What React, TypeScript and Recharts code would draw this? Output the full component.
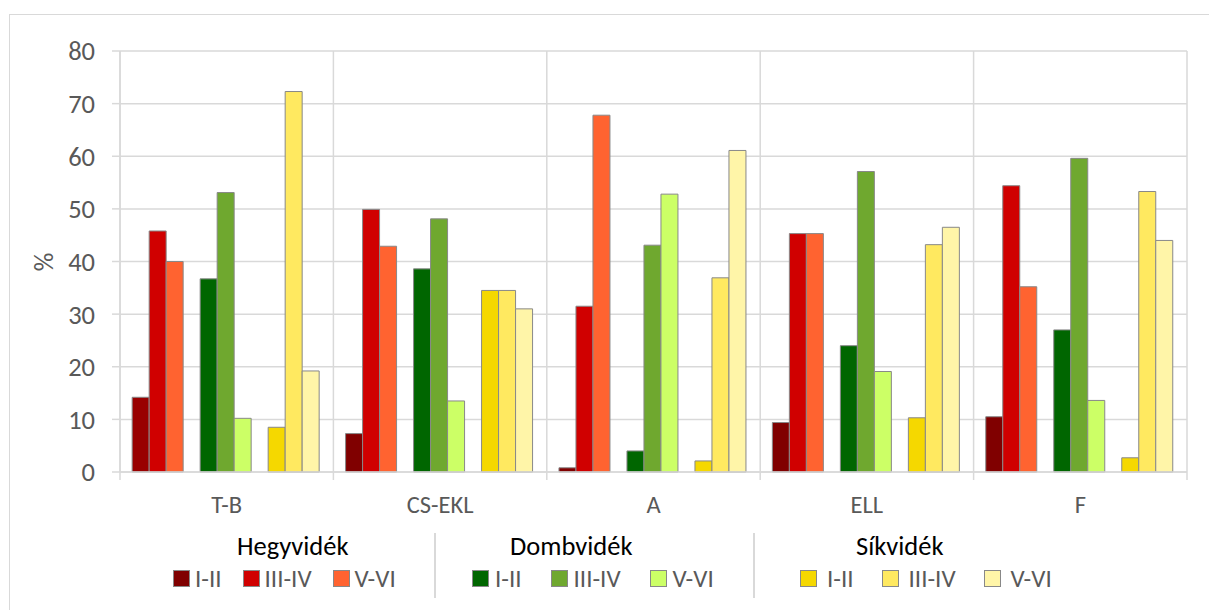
import React from 'react';
import { BarChart, Bar, XAxis, YAxis, CartesianGrid, Cell } from 'recharts';

const categories = ['T-B', 'CS-EKL', 'A', 'ELL', 'F'];

// Hegyvidék
const hegyI = [14.2, 7.3, 0.8, 9.4, 10.5];
const hegyIII = [45.8, 49.9, 31.5, 45.3, 54.4];
const hegyV = [40.0, 42.9, 67.8, 45.3, 35.2];
// Dombvidék
const dombI = [36.7, 38.6, 4.0, 24.0, 27.0];
const dombIII = [53.1, 48.1, 43.1, 57.1, 59.6];
const dombV = [10.2, 13.5, 52.8, 19.1, 13.6];
// Síkvidék
const sikI = [8.5, 34.5, 2.1, 10.3, 2.7];
const sikIII = [72.3, 34.5, 36.9, 43.2, 53.3];
const sikV = [19.2, 31.0, 61.1, 46.5, 44.0];

const yTicks = [0, 10, 20, 30, 40, 50, 60, 70, 80];

const FONT = 'Carlito, Lato, sans-serif';
const GRID = '#d9d9d9';
const TEXT = '#595959';
const OUTLINE = '#888888';

// the first dark red bar is a shade lighter in the original
const hegyIColors = ['#990000', '#800000', '#800000', '#800000', '#800000'];

const groups = [
  {
    title: 'Hegyvidék',
    titleLeft: 237,
    left: 173,
    gap: 21,
    textGap: 5,
    items: [
      { key: 'hegyI', label: 'I-II', color: '#800000' },
      { key: 'hegyIII', label: 'III-IV', color: '#d00000' },
      { key: 'hegyV', label: 'V-VI', color: '#ff6330' },
    ],
  },
  {
    title: 'Dombvidék',
    titleLeft: 510,
    left: 472,
    gap: 29,
    textGap: 6,
    items: [
      { key: 'dombI', label: 'I-II', color: '#006600' },
      { key: 'dombIII', label: 'III-IV', color: '#6fa82f' },
      { key: 'dombV', label: 'V-VI', color: '#ccff66' },
    ],
  },
  {
    title: 'Síkvidék',
    titleLeft: 856,
    left: 800,
    gap: 28,
    textGap: 10,
    items: [
      { key: 'sikI', label: 'I-II', color: '#f5d800' },
      { key: 'sikIII', label: 'III-IV', color: '#ffe960' },
      { key: 'sikV', label: 'V-VI', color: '#fff5a8' },
    ],
  },
];

const data = categories.map((name, i) => ({
  name,
  hegyI: hegyI[i],
  hegyIII: hegyIII[i],
  hegyV: hegyV[i],
  dombI: dombI[i],
  dombIII: dombIII[i],
  dombV: dombV[i],
  sikI: sikI[i],
  sikIII: sikIII[i],
  sikV: sikV[i],
}));

const CategoryTick = (props: any) => {
  const { x, y, payload, index } = props;
  const half = payload.offset || 0;
  const axisY = y - 10;
  return (
    <g>
      <line x1={x - half} x2={x - half} y1={axisY} y2={axisY + 8} stroke={GRID} strokeWidth={1.5} />
      {index === categories.length - 1 && (
        <line x1={x + half} x2={x + half} y1={axisY} y2={axisY + 8} stroke={GRID} strokeWidth={1.5} />
      )}
      <text x={x} y={axisY + 41} textAnchor="middle" fill={TEXT} fontSize={24.5} fontFamily={FONT}>
        {payload.value}
      </text>
    </g>
  );
};

const seriesOrder = ['hegyI', 'hegyIII', 'hegyV', 'gap1', 'dombI', 'dombIII', 'dombV', 'gap2', 'sikI', 'sikIII', 'sikV'];

export default function App() {
  const colorOf: Record<string, string> = {};
  groups.forEach((g) => g.items.forEach((it) => (colorOf[it.key] = it.color)));

  return (
    <div
      style={{
        position: 'fixed',
        left: 0,
        top: 0,
        width: 1209,
        height: 610,
        overflow: 'hidden',
        background: '#fff',
        fontFamily: FONT,
      }}
    >
      <div
        style={{
          position: 'absolute',
          left: 9,
          top: 14,
          width: 1400,
          height: 800,
          border: `1.5px solid ${GRID}`,
        }}
      />
      <div style={{ position: 'absolute', left: 0, top: 0 }}>
        <BarChart
          width={1209}
          height={530}
          data={data}
          margin={{ top: 51, right: 22, bottom: 8, left: 0 }}
          barCategoryGap="5.7%"
          barGap={0}
        >
          <CartesianGrid
            stroke={GRID}
            strokeWidth={1.5}
            verticalCoordinatesGenerator={({ offset }: any) =>
              categories.map((_, i) => offset.left + (i * offset.width) / categories.length).concat(offset.left + offset.width)
            }
          />
          <XAxis
            dataKey="name"
            height={50}
            axisLine={{ stroke: GRID, strokeWidth: 1.5 }}
            tickLine={false}
            tickSize={8}
            tickMargin={2}
            tick={<CategoryTick />}
            interval={0}
          />
          <YAxis
            width={120}
            domain={[0, 80]}
            ticks={yTicks}
            interval={0}
            axisLine={{ stroke: GRID, strokeWidth: 1.5 }}
            tickLine={{ stroke: GRID, strokeWidth: 1.5 }}
            tickSize={8}
            tickMargin={17}
            tick={{ fill: TEXT, fontSize: 26.5, fontFamily: FONT }}
          />
          {seriesOrder.map((key) =>
            key.startsWith('gap') ? (
              <Bar key={key} dataKey={key} isAnimationActive={false} />
            ) : (
              <Bar
                key={key}
                dataKey={key}
                fill={colorOf[key]}
                stroke={OUTLINE}
                strokeWidth={1}
                isAnimationActive={false}
              >
                {key === 'hegyI' && hegyIColors.map((c, i) => <Cell key={i} fill={c} />)}
              </Bar>
            )
          )}
        </BarChart>
      </div>

      <div
        style={{
          position: 'absolute',
          left: 44,
          top: 262,
          transform: 'translate(-50%, -50%) rotate(-90deg)',
          fontSize: 26,
          color: TEXT,
          lineHeight: 1,
        }}
      >
        %
      </div>

      {groups.map((g) => (
        <React.Fragment key={g.title}>
          <div
            style={{
              position: 'absolute',
              left: g.titleLeft,
              top: 532,
              fontSize: 26.5,
              color: '#000',
              lineHeight: '28px',
              whiteSpace: 'nowrap',
            }}
          >
            {g.title}
          </div>
          <div
            style={{
              position: 'absolute',
              left: g.left,
              top: 565.5,
              display: 'flex',
              alignItems: 'center',
              gap: g.gap,
              whiteSpace: 'nowrap',
            }}
          >
            {g.items.map((it) => (
              <div key={it.key} style={{ display: 'flex', alignItems: 'center', gap: g.textGap }}>
                <span
                  style={{
                    display: 'inline-block',
                    width: 15,
                    height: 15,
                    background: it.color,
                    border: `1px solid ${OUTLINE}`,
                  }}
                />
                <span style={{ fontSize: 25, color: TEXT, lineHeight: '26px' }}>{it.label}</span>
              </div>
            ))}
          </div>
        </React.Fragment>
      ))}

      <div style={{ position: 'absolute', left: 434, top: 533, width: 1.5, height: 65, background: GRID }} />
      <div style={{ position: 'absolute', left: 753, top: 533, width: 1.5, height: 65, background: GRID }} />
    </div>
  );
}
